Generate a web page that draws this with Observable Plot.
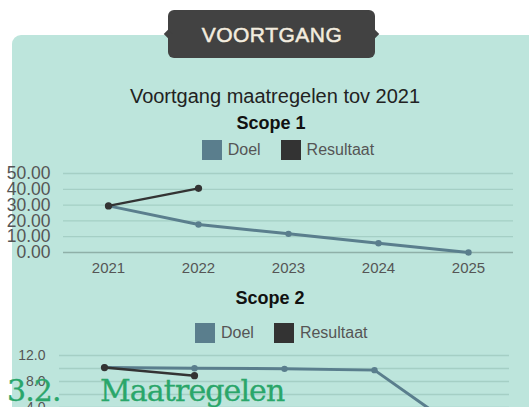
<!DOCTYPE html>
<html>
<head>
<meta charset="utf-8">
<script src="https://cdn.jsdelivr.net/npm/d3@7"></script>
<script src="https://cdn.jsdelivr.net/npm/@observablehq/plot@0.6"></script>
<style>
  html, body { margin: 0; padding: 0; background: #ffffff; }
  body { width: 529px; height: 407px; overflow: hidden; position: relative; font-family: "Liberation Sans", Arial, sans-serif; }
  .panel { position: absolute; left: 12px; top: 35px; width: 560px; height: 420px; background: #bde5dc; border-radius: 9px; }
  .badge { position: absolute; left: 168px; top: 10px; width: 207px; height: 48px; background: #424242; border-radius: 6px; }
  .badge::before, .badge::after { content: ""; position: absolute; top: 21px; width: 6px; height: 6px; background: #424242; transform: rotate(45deg); }
  .badge::before { left: -3px; }
  .badge::after { right: -3px; }
  .badge-text { position: absolute; left: 272px; top: 24px; transform: translateX(-50%); font-size: 21px; line-height: 1; letter-spacing: 0.5px; color: #f3ecdf; white-space: nowrap; -webkit-text-stroke: 0.5px #f3ecdf; }
  .t { position: absolute; line-height: 1; white-space: nowrap; transform: translateX(-50%); }
  .title { left: 275px; top: 86px; font-size: 20px; color: #222; }
  .scope { font-size: 18px; font-weight: bold; color: #111; }
  .legend { position: absolute; display: flex; align-items: center; font-size: 16px; color: #555; line-height: 1; }
  .legend .sw { width: 20px; height: 20px; margin-right: 6px; }
  .legend .lab { margin-right: 20px; }
  .chart { position: absolute; left: 0; }
  .chart svg text { font-family: "Liberation Sans", Arial, sans-serif; }
  .heading { position: absolute; top: 375.6px; font-family: "DejaVu Serif", serif; font-size: 30px; line-height: 1; letter-spacing: -0.9px; color: #2aa66a; white-space: nowrap; -webkit-text-stroke: 0.3px #2aa66a; }
</style>
</head>
<body>
<div class="panel"></div>
<div class="badge"></div>
<div class="badge-text" id="badgeText"></div>
<div class="t title" id="title"></div>
<div class="t scope" id="scope1" style="left:271px; top:113.8px;"></div>
<div class="legend" id="legend1" style="left:201.7px; top:140px;"></div>
<div class="chart" id="chart1" style="top:160px;"></div>
<div class="t scope" id="scope2" style="left:270px; top:289px;"></div>
<div class="legend" id="legend2" style="left:195px; top:322.7px;"></div>
<div class="chart" id="chart2" style="top:345px;"></div>
<div class="heading" id="hnum" style="left:7px;"></div>
<div class="heading" id="htext" style="left:100px;"></div>

<script>
// ---- texts ----
const badgeLabel = "VOORTGANG";
const chartTitle = "Voortgang maatregelen tov 2021";
const scopeTitles = ["Scope 1", "Scope 2"];
const headingNumber = "3.2.";
const headingText = "Maatregelen";

// ---- categories & series ----
const years = [2021, 2022, 2023, 2024, 2025];
const seriesNames = ["Doel", "Resultaat"];
const seriesColors = ["#5a7e8d", "#333333"];

// Scope 1 values
const scope1Doel = [29.5, 17.7, 11.8, 5.9, 0];
const scope1Resultaat = [29.5, 40.6];           // 2021, 2022
const scope1Ticks = [0, 10, 20, 30, 40, 50];

// Scope 2 values
const scope2Doel = [10.15, 10.05, 9.95, 9.75, 0];
const scope2Resultaat = [10.15, 8.9];           // 2021, 2022
const scope2GridTicks = [0, 2, 4, 6, 8, 10, 12];
const scope2LabelTicks = [0, 4, 8, 12];

// ---- text ----
document.getElementById("badgeText").textContent = badgeLabel;
document.getElementById("title").textContent = chartTitle;
document.getElementById("scope1").textContent = scopeTitles[0];
document.getElementById("scope2").textContent = scopeTitles[1];
document.getElementById("hnum").textContent = headingNumber;
document.getElementById("htext").textContent = headingText;

function buildLegend(id) {
  const el = document.getElementById(id);
  seriesNames.forEach((name, i) => {
    const sw = document.createElement("span");
    sw.className = "sw";
    sw.style.background = seriesColors[i];
    const lab = document.createElement("span");
    lab.className = "lab";
    lab.textContent = name;
    el.appendChild(sw);
    el.appendChild(lab);
  });
}
buildLegend("legend1");
buildLegend("legend2");

function toRows(doel, res) {
  const rows = [];
  doel.forEach((v, i) => rows.push({year: years[i], value: v, series: seriesNames[0]}));
  res.forEach((v, i) => rows.push({year: years[i], value: v, series: seriesNames[1]}));
  return rows;
}

const gridColor = "#a5cfc5";
const baseColor = "#8fb0a8";
const fontStack = "'Liberation Sans', Arial, sans-serif";

function makeChart({rows, yMax, gridTicks, labelTicks, fmt, marginLeft, marginRight, marginTop, plotH, yFont, yPad}) {
  const doel = rows.filter(d => d.series === seriesNames[0]);
  const res = rows.filter(d => d.series === seriesNames[1]);
  return Plot.plot({
    width: 529,
    height: marginTop + plotH + 33,
    marginLeft, marginRight, marginTop, marginBottom: 33,
    style: {background: "transparent", fontFamily: fontStack, fontSize: "15px", color: "#555", overflow: "visible"},
    x: {type: "point", domain: years, padding: 0.5},
    y: {domain: [0, yMax]},
    marks: [
      Plot.ruleY(gridTicks.filter(d => d > 0), {stroke: gridColor, strokeWidth: 1.3}),
      Plot.ruleY([0], {stroke: baseColor, strokeWidth: 1.3}),
      Plot.axisY({ticks: labelTicks, tickFormat: d => d.toFixed(fmt), tickSize: 0, tickPadding: yPad, fontSize: yFont, fontFamily: fontStack, label: null, fill: "#555"}),
      Plot.axisX({tickSize: 0, tickPadding: 10, label: null, tickFormat: d => String(d), fontFamily: fontStack, fill: "#555"}),
      Plot.line(doel, {x: "year", y: "value", stroke: seriesColors[0], strokeWidth: 3}),
      Plot.dot(doel, {x: "year", y: "value", fill: seriesColors[0], r: 3.2}),
      Plot.line(res, {x: "year", y: "value", stroke: seriesColors[1], strokeWidth: 2.5}),
      Plot.dot(res, {x: "year", y: "value", fill: seriesColors[1], r: 3.6})
    ]
  });
}

document.getElementById("chart1").appendChild(makeChart({
  rows: toRows(scope1Doel, scope1Resultaat), yMax: 50,
  gridTicks: scope1Ticks, labelTicks: scope1Ticks, fmt: 2,
  marginLeft: 63, marginRight: 16, marginTop: 13, plotH: 79, yFont: 17.5, yPad: 13
}));

document.getElementById("chart2").appendChild(makeChart({
  rows: toRows(scope2Doel, scope2Resultaat), yMax: 12,
  gridTicks: scope2GridTicks, labelTicks: scope2LabelTicks, fmt: 1,
  marginLeft: 59, marginRight: 20, marginTop: 10, plotH: 78, yFont: 14, yPad: 14
}));
</script>
</body>
</html>
